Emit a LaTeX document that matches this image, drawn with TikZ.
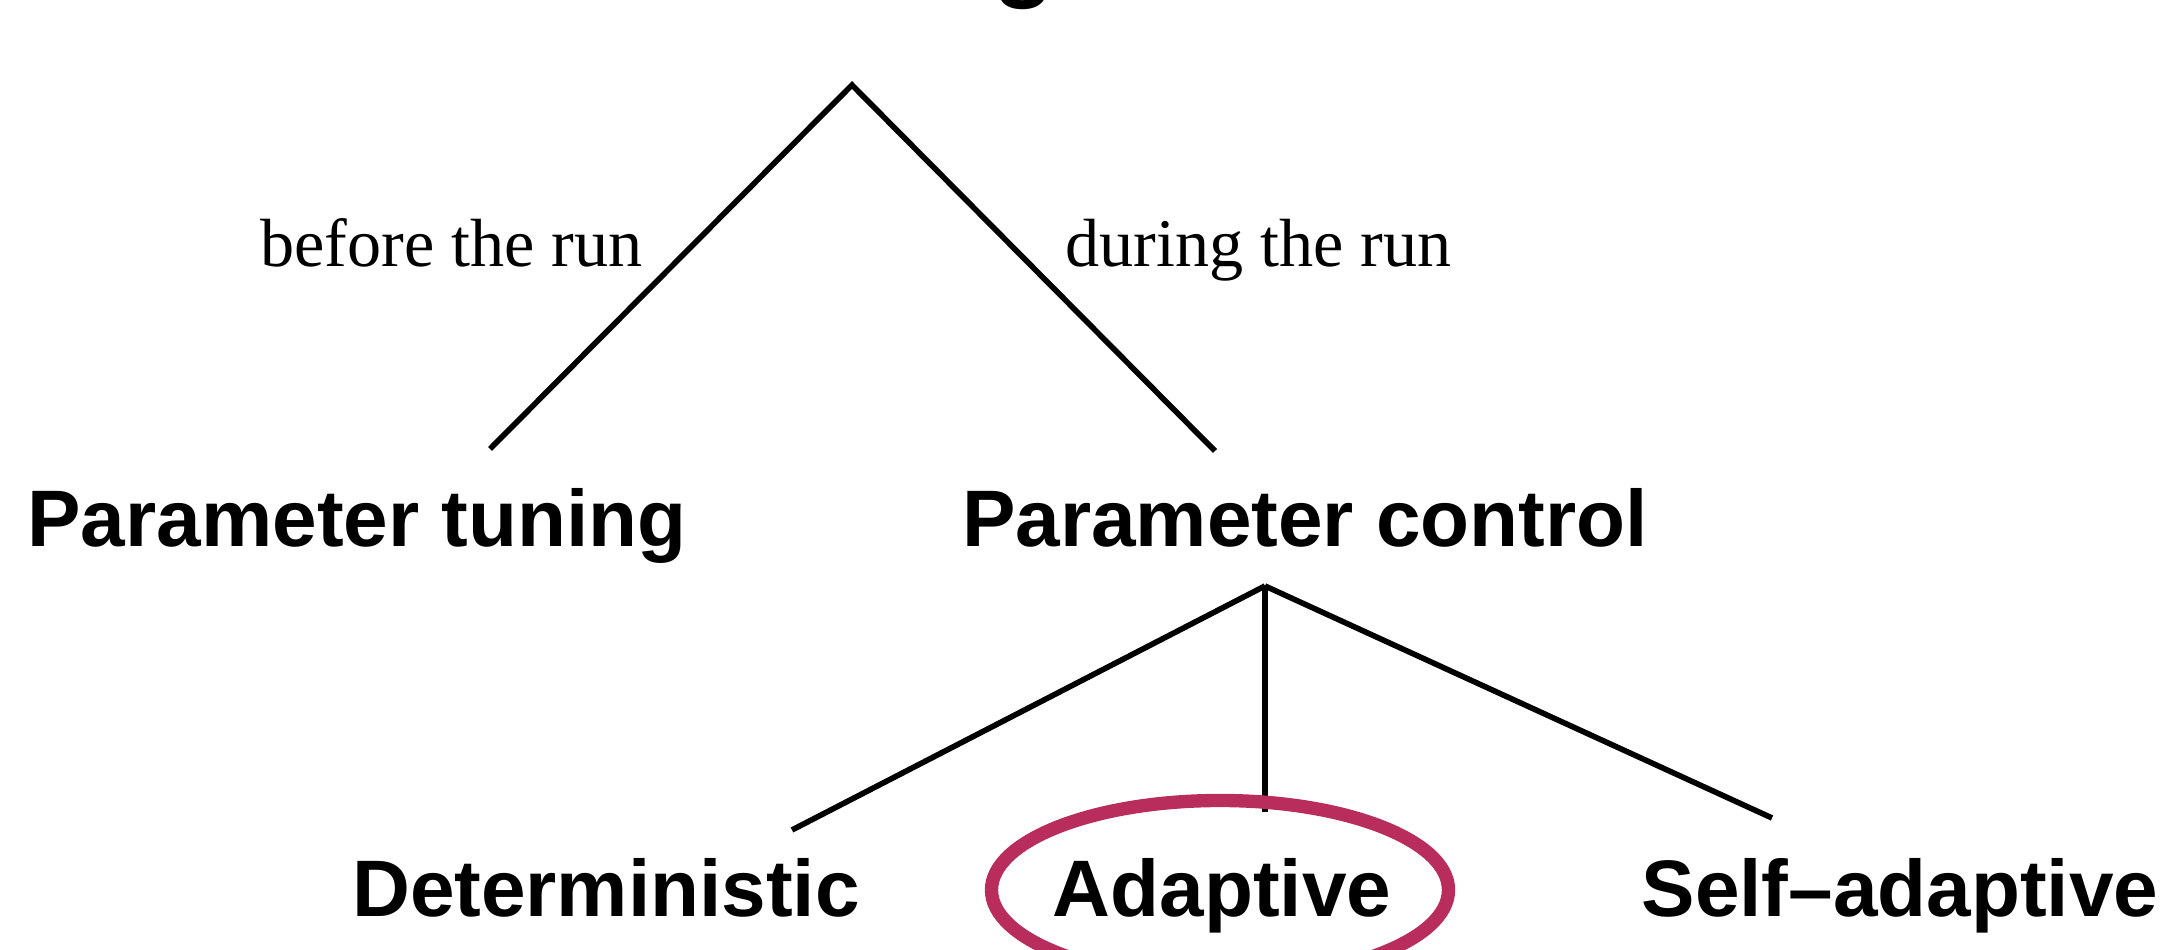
\documentclass[tikz,border=0pt]{standalone}
\usepackage{fontspec}
\setmainfont{Liberation Serif}
\setsansfont{Liberation Sans}
\definecolor{ringred}{RGB}{185,45,93}
\begin{document}
\begin{tikzpicture}
  \tikzstyle{every node}=[anchor=base,inner sep=0pt]
  \tikzstyle{kind}=[font=\sffamily\bfseries\fontsize{22.8pt}{27pt}\selectfont]
  \tikzstyle{when}=[font=\fontsize{19.4pt}{23pt}\selectfont]
  \tikzstyle{branch}=[line width=1.6pt]
  \useasboundingbox (0,0) rectangle (21.61,9.5);
  % heading, only the tail of its g is inside the page
  \node (title) [font=\sffamily\bfseries\fontsize{28.5pt}{30pt}\selectfont] at (10.24,9.61) {g};
  \coordinate (top) at (8.52,8.65);
  \coordinate (tuneend) at (4.90,5.01);
  \coordinate (ctrlend) at (12.15,4.99);
  \node (before) [when] at (4.515,6.83) {before the run};
  \node (during) [when] at (12.585,6.83) {during the run};
  \node (tuning) [kind] at (3.57,4.03) {Parameter tuning};
  \node (control) [kind] at (13.05,4.03) {Parameter control};
  \draw [branch] (tuneend) -- (top) -- (ctrlend);
  \coordinate (fork) at (12.65,3.64);
  \coordinate (detend) at (7.92,1.20);
  \coordinate (adaend) at (12.65,1.38);
  \coordinate (selfend) at (17.72,1.32);
  \node (det) [kind] at (6.06,0.33) {Deterministic};
  \node (ada) [kind] at (12.22,0.33) {Adaptive};
  \node (self) [kind] at (19.00,0.33) {Self–adaptive};
  \draw [branch] (fork) -- (detend);
  \draw [branch] (fork) -- (adaend);
  \draw [branch] (fork) -- (selfend);
  % highlight round Adaptive
  \draw [ringred,line width=3.8pt] (12.20,0.60) ellipse [x radius=2.285,y radius=0.895];
\end{tikzpicture}
\end{document}
